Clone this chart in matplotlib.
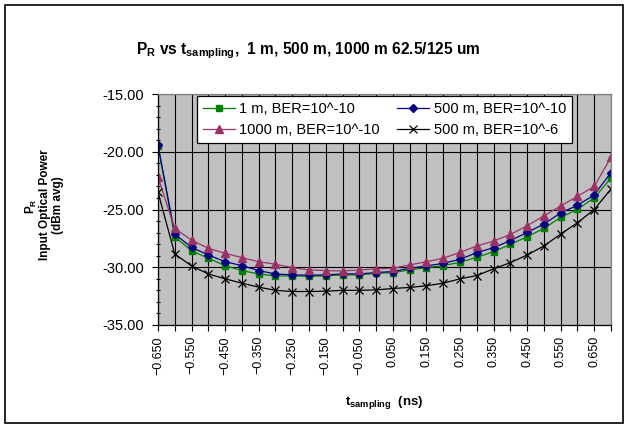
import numpy as np
import matplotlib
matplotlib.use("Agg")
import matplotlib.pyplot as plt
from matplotlib.patches import Rectangle
from matplotlib.ticker import MultipleLocator

plt.rcParams['font.family'] = ['Liberation Sans', 'DejaVu Sans']
plt.rcParams['mathtext.fontset'] = 'custom'
plt.rcParams['mathtext.rm'] = 'Liberation Sans:bold'
plt.rcParams['mathtext.it'] = 'Liberation Sans:bold'
plt.rcParams['mathtext.bf'] = 'Liberation Sans:bold'
plt.rcParams['axes.unicode_minus'] = False

# sampling time offsets (ns)
t_ns = [-0.65, -0.60, -0.55, -0.50, -0.45, -0.40, -0.35, -0.30, -0.25, -0.20,
        -0.15, -0.10, -0.05, 0.00, 0.05, 0.10, 0.15, 0.20, 0.25, 0.30,
        0.35, 0.40, 0.45, 0.50, 0.55, 0.60, 0.65, 0.70]

# receiver sensitivity (dBm avg)
pr_1m = [-19.5, -27.36, -28.57, -29.22, -29.86, -30.29, -30.58, -30.75, -30.75, -30.78,
         -30.75, -30.66, -30.66, -30.52, -30.46, -30.23, -30.03, -29.86, -29.57, -29.14,
         -28.65, -28.02, -27.36, -26.64, -25.69, -24.98, -24.0, -22.28]
pr_500m = [-19.42, -27.13, -28.28, -28.94, -29.52, -29.86, -30.29, -30.58, -30.66, -30.69,
           -30.66, -30.58, -30.58, -30.46, -30.37, -30.09, -29.89, -29.66, -29.31, -28.74,
           -28.3, -27.7, -26.98, -26.27, -25.29, -24.64, -23.73, -21.8]
pr_1000m = [-22.2, -26.64, -27.65, -28.36, -28.79, -29.17, -29.52, -29.74, -30.03, -30.23,
            -30.29, -30.32, -30.23, -30.14, -30.09, -29.8, -29.52, -29.22, -28.71, -28.16,
            -27.73, -27.16, -26.41, -25.55, -24.7, -23.86, -23.0, -20.48]
pr_500m_e6 = [-23.5, -28.85, -29.89, -30.58, -31.0, -31.38, -31.72, -32.0, -32.1, -32.1,
              -32.07, -32.0, -32.0, -31.96, -31.84, -31.75, -31.6, -31.38, -31.0, -30.72,
              -30.14, -29.6, -28.94, -28.16, -27.13, -26.15, -25.0, -23.23]

W, H = 629, 428
fig = plt.figure(figsize=(W / 100, H / 100), dpi=100)
fig.patches.append(Rectangle((5 / W, 5 / H), 618 / W, 418 / H, transform=fig.transFigure,
                             fill=False, edgecolor='black', linewidth=1.2))

ax = fig.add_axes([158 / W, (H - 325) / H, 453 / W, 231 / H])
ax.set_facecolor('#c0c0c0')

l1, = ax.plot(t_ns, pr_1m, color='#008000', marker='s', markersize=5, lw=0.9, label='1 m, BER=10^-10')
l2, = ax.plot(t_ns, pr_500m, color='#000080', marker='D', markersize=4.5, lw=0.9, label='500 m, BER=10^-10')
l3, = ax.plot(t_ns, pr_1000m, color='#993366', marker='^', markersize=6, lw=0.9, label='1000 m, BER=10^-10')
l4, = ax.plot(t_ns, pr_500m_e6, color='black', marker='x', markersize=6, mew=0.9, lw=0.9, label='500 m, BER=10^-6')

ax.set_xlim(-0.65, 0.70)
ax.set_ylim(-35, -15)

xlabels = [(f"{v:.3f}".replace('-', '\u2212') if i % 2 == 0 and i < 27 else '') for i, v in enumerate(t_ns)]
ax.set_xticks(t_ns)
ax.set_xticklabels(xlabels, rotation=90, fontsize=9)
ax.set_yticks(np.arange(-35, -14, 5))
ax.set_yticklabels([f"{v:.2f}" for v in np.arange(-35, -14, 5)], fontsize=10.5)
ax.yaxis.set_minor_locator(MultipleLocator(1))
ax.tick_params(axis='x', direction='out', length=4, width=0.8, pad=4)
ax.tick_params(axis='y', which='major', direction='out', length=4, width=0.8, pad=6)
ax.tick_params(axis='y', which='minor', direction='inout', length=3, width=0.8)

ax.grid(True, which='major', color='black', linewidth=0.8)
ax.set_axisbelow(True)
for side in ['left', 'bottom']:
    ax.spines[side].set_color('black')
    ax.spines[side].set_linewidth(0.9)
for side in ['top', 'right']:
    ax.spines[side].set_color('#808080')
    ax.spines[side].set_linewidth(0.9)

leg = ax.legend(handles=[l1, l3, l2, l4], ncol=2, loc='upper left',
                bbox_to_anchor=(0.086, 0.791, 0.828, 0.2), mode='expand', borderaxespad=0,
                fontsize=10.5, fancybox=False, framealpha=1, edgecolor='black',
                handlelength=2.2, handletextpad=0.3, columnspacing=1.0,
                borderpad=0.4, labelspacing=0.5)
leg.get_frame().set_linewidth(0.9)

fig.text(308 / W, 1 - 51 / H, r"P$_\mathrm{R}$ vs t$_\mathrm{sampling}$,  1 m, 500 m, 1000 m 62.5/125 um",
         ha='center', va='center', fontsize=11.2, fontweight='bold')
fig.text(384 / W, 1 - 402 / H, r"t$_\mathrm{sampling}$  (ns)",
         ha='center', va='center', fontsize=9.5, fontweight='bold')
fig.text(31 / W, 1 - 206 / H, r"P$_\mathrm{R}$", rotation=90,
         ha='center', va='center', fontsize=8.5, fontweight='bold')
fig.text(45 / W, 1 - 205 / H, "Input Optical Power", rotation=90,
         ha='center', va='center', fontsize=8.5, fontweight='bold')
fig.text(58 / W, 1 - 205 / H, "(dBm avg)", rotation=90,
         ha='center', va='center', fontsize=8.5, fontweight='bold')

fig.savefig('out.png', dpi=100)
